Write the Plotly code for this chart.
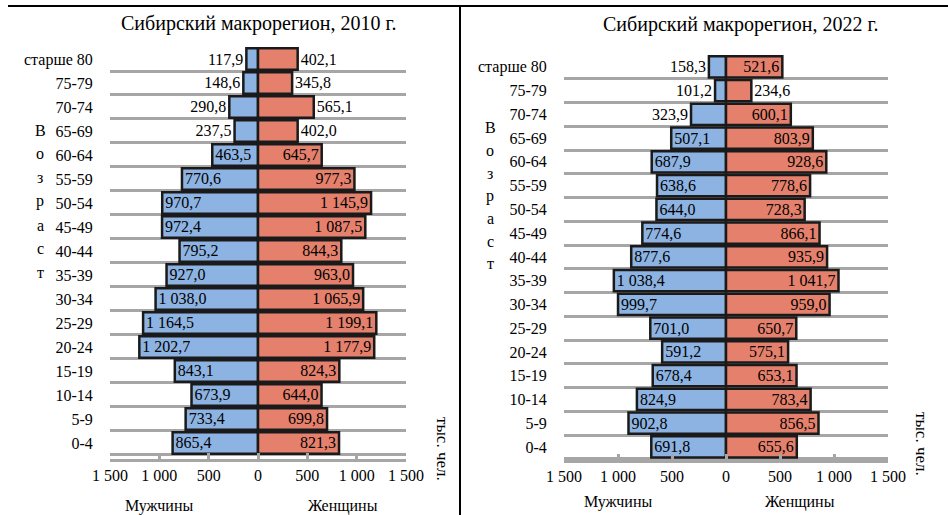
import plotly.graph_objects as go

# ---------------- data ----------------
ages = ["старше 80", "75-79", "70-74", "65-69", "60-64", "55-59", "50-54", "45-49",
        "40-44", "35-39", "30-34", "25-29", "20-24", "15-19", "10-14", "5-9", "0-4"]

men_2010 = [117.9, 148.6, 290.8, 237.5, 463.5, 770.6, 970.7, 972.4, 795.2, 927.0,
            1038.0, 1164.5, 1202.7, 843.1, 673.9, 733.4, 865.4]
women_2010 = [402.1, 345.8, 565.1, 402.0, 645.7, 977.3, 1145.9, 1087.5, 844.3, 963.0,
              1065.9, 1199.1, 1177.9, 824.3, 644.0, 699.8, 821.3]

men_2022 = [158.3, 101.2, 323.9, 507.1, 687.9, 638.6, 644.0, 774.6, 877.6, 1038.4,
            999.7, 701.0, 591.2, 678.4, 824.9, 902.8, 691.8]
women_2022 = [521.6, 234.6, 600.1, 803.9, 928.6, 778.6, 728.3, 866.1, 935.9, 1041.7,
              959.0, 650.7, 575.1, 653.1, 783.4, 856.5, 655.6]

tick_vals = [-1500, -1000, -500, 0, 500, 1000, 1500]
tick_text = ["1 500", "1 000", "500", "0", "500", "1 000", "1 500"]

titles = ["Сибирский макрорегион, 2010 г.", "Сибирский макрорегион, 2022 г."]
age_word = "Возраст"
unit = "тыс. чел."
men_label = "Мужчины"
women_label = "Женщины"

# ---------------- style ----------------
FONT = "Liberation Serif"
BLUE = "#8DB3E2"
SALMON = "#E5806C"
GRID = "#A6A6A6"
W, H = 948, 515


def fmt(v):
    s = f"{v:,.1f}"
    return s.replace(",", " ").replace(".", ",")


n = len(ages)
ypos = [n - 1 - i for i in range(n)]

fig = go.Figure()


def add_pair(men, women, xa, ya, thr_m, thr_w):
    fig.add_trace(go.Bar(
        y=ypos, x=[-v for v in men], orientation="h",
        text=[fmt(v) for v in men],
        textposition=["inside" if v >= thr_m else "outside" for v in men],
        insidetextanchor="end", constraintext="none", cliponaxis=False,
        textfont=dict(family=FONT, size=16, color="black"),
        marker=dict(color=BLUE, line=dict(color="#1a1a1a", width=2.5)),
        xaxis=xa, yaxis=ya, showlegend=False, hoverinfo="skip"))
    fig.add_trace(go.Bar(
        y=ypos, x=women, orientation="h",
        text=[fmt(v) for v in women],
        textposition=["inside" if v >= thr_w else "outside" for v in women],
        insidetextanchor="end", constraintext="none", cliponaxis=False,
        textfont=dict(family=FONT, size=16, color="black"),
        marker=dict(color=SALMON, line=dict(color="#1a1a1a", width=2.5)),
        xaxis=xa, yaxis=ya, showlegend=False, hoverinfo="skip"))


add_pair(men_2010, women_2010, "x", "y", 400, 600)
add_pair(men_2022, women_2022, "x2", "y2", 400, 400)


def xax(domain, anchor):
    return dict(domain=domain, anchor=anchor, range=[-1500, 1500],
                tickvals=tick_vals, ticktext=tick_text,
                showgrid=False, zeroline=False, automargin=False,
                showline=True, linecolor=GRID, linewidth=2.5,
                ticks="inside", ticklen=6, tickwidth=2.5, tickcolor=GRID,
                tickfont=dict(family=FONT, size=16, color="black"),
                fixedrange=True)


def yax(domain, anchor, bottom):
    return dict(domain=domain, anchor=anchor, range=[bottom, n - 0.5],
                tickvals=ypos, ticktext=ages, showgrid=False, zeroline=False,
                showline=False, ticks="outside", ticklen=0, automargin=False,
                ticklabelstandoff=13,
                tickfont=dict(family=FONT, size=16, color="black"),
                minor=dict(tick0=0.5, dtick=1, showgrid=True, gridcolor=GRID,
                           gridwidth=2.5, ticks=""),
                fixedrange=True)


fig.update_layout(
    width=W, height=H,
    margin=dict(l=0, r=0, t=0, b=0, autoexpand=False),
    paper_bgcolor="white", plot_bgcolor="white",
    barmode="overlay", bargap=0.1,
    xaxis=xax([110 / W, 406 / W], "y"),
    yaxis=yax([1 - 459 / H, 1 - 47 / H], "x", -0.67),
    xaxis2=xax([564 / W, 888 / W], "y2"),
    yaxis2=yax([1 - 460 / H, 1 - 55 / H], "x2", -0.55),
)

ann = []
# titles
for txt, cx, cy in [(titles[0], 258, 23), (titles[1], 740, 25)]:
    ann.append(dict(text=txt, x=cx / W, y=1 - cy / H, xref="paper", yref="paper",
                    showarrow=False, xanchor="center", yanchor="middle",
                    font=dict(family=FONT, size=20, color="black")))
# vertical "Возраст"
for x0, y0, step in [(40, 130, 23.8), (490, 128, 22.6)]:
    for i, ch in enumerate(age_word):
        ann.append(dict(text=ch, x=x0 / W, y=1 - (y0 + i * step) / H,
                        xref="paper", yref="paper", showarrow=False,
                        xanchor="center", yanchor="middle",
                        font=dict(family=FONT, size=16, color="black")))
# units rotated
for ux, uy in [(443, 449), (922, 444)]:
    ann.append(dict(text=unit, x=ux / W, y=1 - uy / H, xref="paper", yref="paper",
                    showarrow=False, textangle=90, xanchor="center", yanchor="middle",
                    font=dict(family=FONT, size=17, color="black")))
# sex labels
for txt, cx, cy in [(men_label, 159, 506), (women_label, 343, 506),
                    (men_label, 618, 502), (women_label, 800, 502)]:
    ann.append(dict(text=txt, x=cx / W, y=1 - cy / H, xref="paper", yref="paper",
                    showarrow=False, xanchor="center", yanchor="middle",
                    font=dict(family=FONT, size=16, color="black")))
fig.update_layout(annotations=ann)

# frame lines
fig.update_layout(shapes=[
    dict(type="line", xref="paper", yref="paper", x0=8 / W, x1=1, y0=1 - 6 / H, y1=1 - 6 / H,
         line=dict(color="black", width=2)),
    dict(type="line", xref="paper", yref="paper", x0=460 / W, x1=460 / W, y0=0, y1=1 - 6 / H,
         line=dict(color="black", width=2)),
])

fig.write_html("out.html", config={"displayModeBar": False},
               post_script="document.body.style.margin='0';document.body.style.overflow='hidden';")
